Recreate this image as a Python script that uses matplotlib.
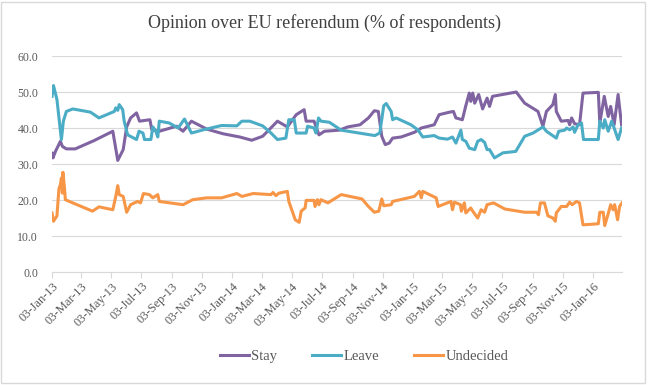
import matplotlib
matplotlib.use("Agg")
import matplotlib.pyplot as plt
import matplotlib.dates as mdates
import pandas as pd
from matplotlib.patches import Rectangle

plt.rcParams['font.family'] = ['Liberation Serif', 'DejaVu Serif']

# poll dates and shares (% of respondents)
stay_dates = [
    "2013-01-03", "2013-01-05", "2013-01-10", "2013-01-20", "2013-01-24", "2013-02-01",
    "2013-02-19", "2013-03-29", "2013-05-06", "2013-05-16", "2013-05-27", "2013-06-03",
    "2013-06-11", "2013-06-23", "2013-06-29", "2013-07-20", "2013-07-24", "2013-08-08",
    "2013-09-12", "2013-09-25", "2013-10-12", "2013-11-12", "2013-12-15", "2014-01-18",
    "2014-02-11", "2014-03-05", "2014-03-18", "2014-04-04", "2014-04-24", "2014-05-12",
    "2014-05-28", "2014-06-01", "2014-06-17", "2014-06-27", "2014-07-08", "2014-08-07",
    "2014-08-24", "2014-09-18", "2014-10-05", "2014-10-17", "2014-10-25", "2014-11-01",
    "2014-11-08", "2014-11-16", "2014-11-23", "2014-12-10", "2015-01-06", "2015-01-20",
    "2015-02-15", "2015-02-25", "2015-03-18", "2015-03-26", "2015-03-31", "2015-04-13",
    "2015-04-20", "2015-04-27", "2015-04-30", "2015-05-04", "2015-05-08", "2015-05-16",
    "2015-05-24", "2015-06-02", "2015-06-07", "2015-06-13", "2015-07-31", "2015-08-17",
    "2015-09-13", "2015-09-23", "2015-09-30", "2015-10-13", "2015-10-18", "2015-10-20",
    "2015-10-30", "2015-11-13", "2015-11-16", "2015-11-20", "2015-11-26", "2015-12-06",
    "2015-12-13", "2016-01-13", "2016-01-16", "2016-01-25", "2016-02-02", "2016-02-07",
    "2016-02-14", "2016-02-22", "2016-02-29",
]
stay = [
    33.0, 31.7, 33.5, 36.3, 34.9, 34.2,
    34.2, 36.5, 39.1, 31.0, 34.0, 40.3,
    42.8, 44.2, 41.9, 42.3, 39.5, 39.1,
    40.5, 39.1, 41.9, 39.7, 38.4, 37.5,
    36.6, 37.7, 39.5, 41.9, 40.3, 43.7,
    45.1, 41.9, 41.9, 38.1, 39.1, 39.4,
    40.3, 40.9, 42.8, 44.8, 44.6, 37.7,
    35.4, 35.8, 37.2, 37.5, 38.8, 40.0,
    40.9, 43.7, 44.4, 44.6, 42.8, 42.3,
    46.2, 49.7, 47.4, 49.7, 46.9, 49.3,
    45.3, 48.3, 46.0, 48.8, 50.0, 46.9,
    44.6, 40.5, 44.6, 46.5, 49.3, 44.6,
    41.9, 42.1, 40.9, 42.8, 41.2, 40.9,
    49.7, 49.9, 41.4, 48.8, 43.2, 46.0,
    40.9, 49.3, 40.9,
]

leave_dates = [
    "2013-01-03", "2013-01-06", "2013-01-13", "2013-01-22", "2013-01-26", "2013-02-01",
    "2013-02-14", "2013-03-22", "2013-04-08", "2013-05-09", "2013-05-12", "2013-05-16",
    "2013-05-19", "2013-05-26", "2013-05-29", "2013-06-05", "2013-06-23", "2013-06-28",
    "2013-07-06", "2013-07-09", "2013-07-22", "2013-07-26", "2013-08-01", "2013-08-05",
    "2013-08-08", "2013-08-28", "2013-09-15", "2013-09-28", "2013-10-12", "2013-11-05",
    "2013-12-12", "2014-01-12", "2014-01-22", "2014-02-07", "2014-03-05", "2014-03-22",
    "2014-04-04", "2014-04-21", "2014-04-27", "2014-05-08", "2014-05-12", "2014-06-01",
    "2014-06-04", "2014-06-17", "2014-06-21", "2014-06-26", "2014-07-01", "2014-07-18",
    "2014-08-11", "2014-10-18", "2014-10-28", "2014-11-05", "2014-11-10", "2014-11-20",
    "2014-11-23", "2014-11-30", "2014-12-30", "2015-01-13", "2015-01-23", "2015-02-15",
    "2015-02-25", "2015-03-14", "2015-03-24", "2015-03-31", "2015-04-10", "2015-04-13",
    "2015-04-20", "2015-04-27", "2015-05-08", "2015-05-14", "2015-05-21", "2015-05-28",
    "2015-06-02", "2015-06-07", "2015-06-17", "2015-07-04", "2015-07-30", "2015-08-17",
    "2015-09-03", "2015-09-23", "2015-09-30", "2015-10-20", "2015-10-25", "2015-11-06",
    "2015-11-10", "2015-11-16", "2015-11-23", "2015-11-26", "2015-12-03", "2015-12-10",
    "2015-12-14", "2016-01-13", "2016-01-16", "2016-01-23", "2016-01-26", "2016-02-02",
    "2016-02-09", "2016-02-14", "2016-02-22", "2016-02-29",
]
leave = [
    48.8, 51.8, 47.9, 36.8, 41.9, 44.6,
    45.3, 44.4, 42.8, 44.6, 45.6, 44.9,
    46.5, 45.1, 41.9, 38.1, 36.8, 39.1,
    38.6, 36.8, 36.8, 40.3, 39.1, 37.5,
    41.9, 41.4, 40.0, 42.5, 38.6, 39.5,
    40.7, 40.6, 41.9, 41.9, 40.6, 38.6,
    36.8, 37.2, 42.3, 42.3, 38.6, 38.6,
    40.5, 40.0, 38.6, 42.8, 41.9, 41.6,
    39.4, 37.9, 38.6, 46.2, 46.8, 44.6,
    42.3, 42.8, 40.9, 39.5, 37.5, 37.9,
    37.2, 36.9, 37.5, 35.8, 39.4, 36.8,
    36.3, 34.4, 34.0, 36.3, 36.8, 36.0,
    34.0, 34.0, 31.7, 33.1, 33.5, 37.7,
    38.6, 40.3, 39.1, 37.2, 39.1, 39.4,
    40.0, 39.5, 40.3, 38.8, 40.9, 41.4,
    36.8, 36.8, 41.9, 40.0, 42.3, 39.1,
    41.9, 40.0, 36.8, 40.0,
]

undecided_dates = [
    "2013-01-03", "2013-01-06", "2013-01-13", "2013-01-17", "2013-01-20", "2013-01-22",
    "2013-01-24", "2013-01-25", "2013-01-28", "2013-01-30", "2013-02-07", "2013-03-26",
    "2013-04-08", "2013-05-06", "2013-05-12", "2013-05-16", "2013-05-19", "2013-05-27",
    "2013-06-03", "2013-06-11", "2013-06-25", "2013-07-01", "2013-07-07", "2013-07-19",
    "2013-07-26", "2013-08-05", "2013-08-08", "2013-09-25", "2013-10-15", "2013-11-12",
    "2013-12-12", "2014-01-12", "2014-01-22", "2014-02-14", "2014-03-22", "2014-03-26",
    "2014-04-01", "2014-04-07", "2014-04-24", "2014-04-27", "2014-05-10", "2014-05-18",
    "2014-05-22", "2014-05-30", "2014-06-01", "2014-06-17", "2014-06-19", "2014-06-24",
    "2014-06-27", "2014-07-01", "2014-07-15", "2014-08-11", "2014-09-22", "2014-10-05",
    "2014-10-17", "2014-10-26", "2014-11-01", "2014-11-05", "2014-11-20", "2014-11-23",
    "2015-01-06", "2015-01-16", "2015-01-20", "2015-01-23", "2015-02-19", "2015-02-23",
    "2015-03-21", "2015-03-24", "2015-03-28", "2015-04-09", "2015-04-11", "2015-04-17",
    "2015-04-20", "2015-04-30", "2015-05-04", "2015-05-14", "2015-05-21", "2015-05-28",
    "2015-06-02", "2015-06-15", "2015-07-08", "2015-08-17", "2015-09-10", "2015-09-14",
    "2015-09-18", "2015-09-26", "2015-10-03", "2015-10-13", "2015-10-18", "2015-10-20",
    "2015-10-30", "2015-11-10", "2015-11-16", "2015-11-21", "2015-11-30", "2015-12-06",
    "2015-12-13", "2016-01-13", "2016-01-16", "2016-01-23", "2016-01-26", "2016-02-02",
    "2016-02-07", "2016-02-12", "2016-02-15", "2016-02-21", "2016-02-25", "2016-03-01",
]
undecided = [
    16.4, 14.1, 15.6, 23.1, 24.3, 26.1,
    21.9, 27.7, 23.8, 20.1, 19.6, 16.9,
    18.1, 17.3, 21.0, 24.0, 21.5, 21.0,
    16.6, 18.7, 19.6, 19.2, 21.8, 21.5,
    20.6, 21.5, 19.6, 18.7, 20.1, 20.6,
    20.6, 21.8, 21.0, 21.8, 21.5, 22.1,
    21.2, 21.9, 22.4, 19.6, 14.5, 13.8,
    16.9, 17.8, 19.9, 19.9, 18.2, 20.1,
    18.7, 20.1, 19.2, 21.5, 20.3, 18.2,
    16.6, 16.9, 20.3, 18.4, 18.7, 19.6,
    21.0, 22.4, 20.6, 22.4, 20.6, 18.2,
    19.6, 17.3, 19.4, 18.7, 16.9, 19.2,
    16.4, 17.8, 16.9, 15.0, 17.3, 16.6,
    18.7, 19.2, 17.5, 16.6, 16.6, 15.9,
    19.2, 19.2, 15.6, 15.0, 14.1, 16.4,
    18.2, 18.2, 19.4, 18.7, 19.6, 19.2,
    13.1, 13.4, 16.6, 16.6, 12.9, 16.2,
    18.7, 17.3, 18.7, 14.5, 18.2, 19.2,
]

series = [
    ("Stay", stay_dates, stay, "#8064A2"),
    ("Leave", leave_dates, leave, "#4BACC6"),
    ("Undecided", undecided_dates, undecided, "#F79646"),
]

fig = plt.figure(figsize=(6.5, 3.85), dpi=100)
ax = fig.add_axes([0.08, 0.2935, 0.877, 0.561])

for name, d, v, c in series:
    ax.plot(pd.to_datetime(d), v, color=c, lw=2.2, label=name, solid_joinstyle="round")

ax.set_ylim(0, 60)
ax.set_yticks(range(0, 61, 10))
ax.yaxis.set_major_formatter(matplotlib.ticker.FormatStrFormatter("%.1f"))
ax.set_xlim(pd.Timestamp("2013-01-03"), pd.Timestamp("2016-03-01"))
ticks = pd.date_range("2013-01-01", "2016-01-01", freq="2MS") + pd.Timedelta(days=2)
ax.set_xticks(ticks)
ax.xaxis.set_major_formatter(mdates.DateFormatter("%d-%b-%y"))
ax.grid(axis="y", color="#d9d9d9", lw=0.8)
ax.set_axisbelow(True)
for s in ["top", "right", "left"]:
    ax.spines[s].set_visible(False)
ax.spines["bottom"].set_color("#d9d9d9")
ax.tick_params(axis="y", length=0, labelsize=8.5, labelcolor="#595959", pad=10)
ax.tick_params(axis="x", length=4, color="#d9d9d9", labelsize=9, labelcolor="#595959", pad=2)
for lab in ax.get_xticklabels():
    lab.set_rotation(45)
    lab.set_ha("right")
    lab.set_rotation_mode("anchor")

fig.text(0.5, 0.94, "Opinion over EU referendum (% of respondents)", ha="center",
         va="center", fontsize=13, color="#404040")
fig.legend(loc="center", bbox_to_anchor=(0.56, 0.073), ncol=3, frameon=False,
           fontsize=10.5, handlelength=2.0, handletextpad=0.15, columnspacing=2.4,
           labelcolor="#595959")
fig.patches.append(Rectangle((0.002, 0.005), 0.99, 0.99, transform=fig.transFigure,
                             fill=False, edgecolor="#d9d9d9", lw=1))

fig.savefig("out.png", dpi=100)
